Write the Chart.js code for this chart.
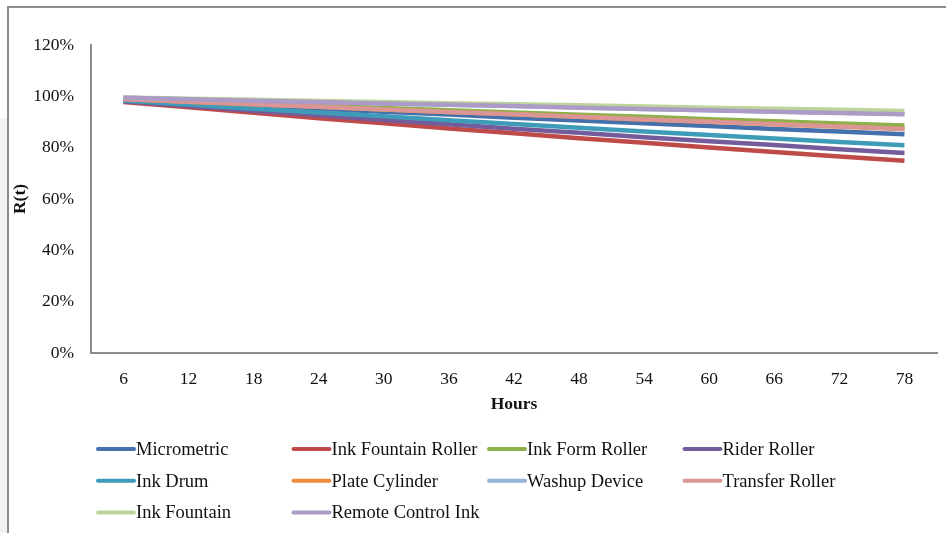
<!DOCTYPE html>
<html>
<head>
<meta charset="utf-8">
<script src="https://cdn.jsdelivr.net/npm/chart.js@4/dist/chart.umd.min.js"></script>
<style>
  html, body { margin: 0; padding: 0; background: #fff; }
  #strip { position: absolute; left: 0; top: 118px; width: 7px; height: 415px; background: #f2f2f2; }
  #frame { position: absolute; left: 7px; top: 6px; width: 945px; height: 540px;
           border-top: 2px solid #8c8c8c; border-left: 2px solid #8c8c8c; }
  #wrap { position: absolute; left: 0; top: 0; width: 946px; height: 533px; }
</style>
</head>
<body>
<div id="strip"></div>
<div id="frame"></div>
<div id="wrap"><canvas id="chart"></canvas></div>
<script>
const hours = ['6', '12', '18', '24', '30', '36', '42', '48', '54', '60', '66', '72', '78'];

// R(t) in percent
const micrometric       = [98.8, 97.6, 96.4, 95.2, 94.0, 92.9, 91.7, 90.6, 89.5, 88.4, 87.3, 86.3, 85.2];
const inkFountainRoller = [97.8, 95.7, 93.6, 91.5, 89.5, 87.5, 85.6, 83.7, 81.9, 80.1, 78.3, 76.6, 74.9];
const inkFormRoller     = [99.1, 98.2, 97.2, 96.3, 95.5, 94.6, 93.7, 92.8, 92.0, 91.1, 90.3, 89.4, 88.6];
const riderRoller       = [98.1, 96.2, 94.4, 92.6, 90.8, 89.1, 87.4, 85.8, 84.1, 82.5, 81.0, 79.4, 77.9];
const inkDrum           = [98.4, 96.8, 95.2, 93.7, 92.2, 90.7, 89.2, 87.8, 86.3, 84.9, 83.6, 82.2, 80.9];
const plateCylinder     = [99.0, 97.9, 96.9, 95.9, 94.9, 93.9, 93.0, 92.0, 91.0, 90.1, 89.1, 88.2, 87.3];
const washupDevice      = [99.4, 98.9, 98.3, 97.8, 97.2, 96.7, 96.2, 95.7, 95.1, 94.6, 94.1, 93.6, 93.1];
const transferRoller    = [99.0, 97.9, 96.9, 95.9, 94.9, 93.9, 93.0, 92.0, 91.0, 90.1, 89.1, 88.2, 87.3];
const inkFountain       = [99.5, 99.1, 98.7, 98.2, 97.8, 97.3, 96.9, 96.5, 96.0, 95.6, 95.2, 94.8, 94.3];
const remoteControlInk  = [99.4, 98.9, 98.3, 97.8, 97.2, 96.7, 96.2, 95.6, 95.1, 94.6, 94.0, 93.5, 93.0];

const seriesNames = ['Micrometric', 'Ink Fountain Roller', 'Ink Form Roller', 'Rider Roller', 'Ink Drum',
                     'Plate Cylinder', 'Washup Device', 'Transfer Roller', 'Ink Fountain', 'Remote Control Ink'];
const seriesData = [micrometric, inkFountainRoller, inkFormRoller, riderRoller, inkDrum,
                    plateCylinder, washupDevice, transferRoller, inkFountain, remoteControlInk];
const seriesColors = ['#4470ab', '#be4b48', '#8cb04a', '#735b9c', '#3e9cb8',
                      '#f08a3c', '#95b3d7', '#d99694', '#bdd59a', '#ab9bc6'];

const fontFamily = '"Liberation Serif", "Times New Roman", serif';

// draws the 4-column legend below the axis, Excel style
const gridLegend = {
    id: 'gridLegend',
    afterDraw(chart) {
        const ctx = chart.ctx;
        ctx.save();
        ctx.font = '18.5px ' + fontFamily;
        ctx.textBaseline = 'middle';
        ctx.textAlign = 'left';
        chart.data.datasets.forEach((ds, i) => {
            const col = i % 4;
            const row = Math.floor(i / 4);
            const x = 96 + col * 195.5;
            const y = 449 + row * 31.7;
            ctx.strokeStyle = ds.borderColor;
            ctx.lineWidth = 4;
            ctx.lineCap = 'round';
            ctx.beginPath();
            ctx.moveTo(x + 2, y);
            ctx.lineTo(x + 38, y);
            ctx.stroke();
            ctx.fillStyle = '#111';
            ctx.fillText(ds.label, x + 40, y + 1);
        });
        ctx.restore();
    }
};

new Chart(document.getElementById('chart'), {
    type: 'line',
    data: {
        labels: hours,
        datasets: seriesNames.map((name, i) => ({
            label: name,
            data: seriesData[i],
            borderColor: seriesColors[i],
            backgroundColor: seriesColors[i],
            borderWidth: 4.5,
            pointRadius: 0,
            tension: 0,
            order: seriesNames.length - i
        }))
    },
    options: {
        responsive: true,
        maintainAspectRatio: false,
        animation: false,
        layout: { padding: { top: 45, right: 9, bottom: 118, left: 0 } },
        scales: {
            x: {
                offset: true,
                grid: { display: false },
                border: { display: true, color: '#8c8c8c', width: 2 },
                ticks: { color: '#111', padding: 8, maxRotation: 0, font: { family: fontFamily, size: 17.5 } },
                title: { display: true, text: 'Hours', color: '#111', padding: { top: 0, bottom: 0 },
                         font: { family: fontFamily, size: 17.5, weight: 'bold' } },
                afterFit: (scale) => { scale.height = 62; }
            },
            y: {
                min: 0,
                max: 120,
                grid: { display: false },
                border: { display: true, color: '#8c8c8c', width: 2 },
                ticks: { stepSize: 20, color: '#111', padding: 9,
                         font: { family: fontFamily, size: 17.5 },
                         callback: (v) => v + '%' },
                title: { display: true, text: 'R(t)', color: '#111', padding: { top: 10, bottom: 0 },
                         font: { family: fontFamily, size: 17.5, weight: 'bold' } },
                afterFit: (scale) => { scale.width = 91; }
            }
        },
        plugins: {
            legend: { display: false },
            tooltip: { enabled: false }
        }
    },
    plugins: [gridLegend]
});
</script>
</body>
</html>
